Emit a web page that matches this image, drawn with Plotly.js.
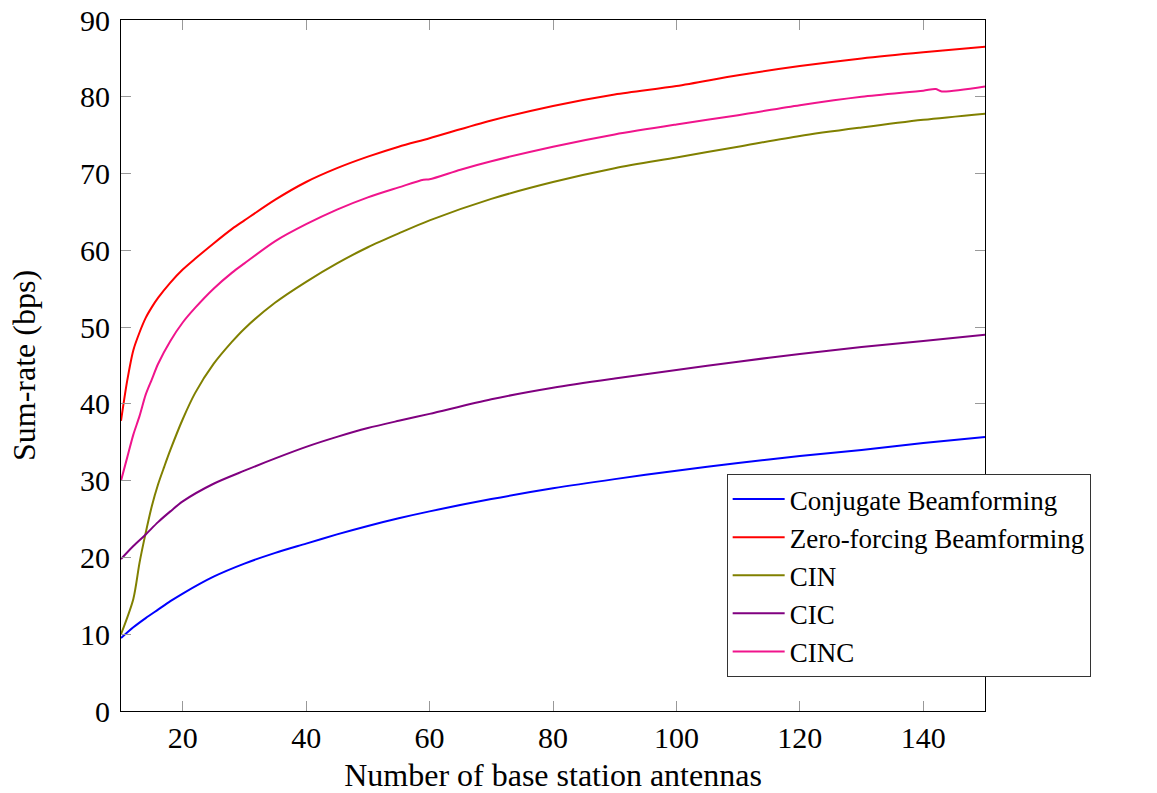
<!DOCTYPE html>
<html>
<head>
<meta charset="utf-8">
<script src="https://cdn.plot.ly/plotly-3.0.1.min.js"></script>
<style>html,body{margin:0;padding:0;background:#fff;}#chart{width:1157px;height:793px;}</style>
</head>
<body>
<div id="chart"></div>
<script>
// Number of base station antennas (x) and sum-rate values (bps)
const seriesNames = ["Conjugate Beamforming", "Zero-forcing Beamforming", "CIN", "CIC", "CINC"];

const cbX  = [10, 12, 14, 16, 18, 20, 25, 30, 35, 40, 45, 50, 55, 60, 70, 80, 90, 100, 110, 120, 130, 140, 150];
const cbY  = [9.5, 10.9, 12.1, 13.2, 14.3, 15.3, 17.5, 19.2, 20.6, 21.8, 23.0, 24.1, 25.1, 26.0, 27.6, 29.0, 30.2, 31.3, 32.3, 33.2, 34.0, 34.9, 35.7];

const zfX  = [10, 11, 12, 13, 14, 15, 16, 18, 20, 22, 25, 28, 30, 35, 40, 45, 50, 55, 60, 70, 80, 90, 100, 110, 120, 130, 140, 150];
const zfY  = [37.8, 43.0, 47.0, 49.3, 51.2, 52.6, 53.8, 55.8, 57.5, 58.9, 60.9, 62.8, 63.9, 66.6, 68.9, 70.7, 72.2, 73.5, 74.6, 76.9, 78.8, 80.3, 81.4, 82.8, 84.0, 85.0, 85.8, 86.5];

const cinX = [10, 12, 13, 14, 15, 16, 17, 18, 20, 22, 25, 28, 30, 35, 40, 45, 50, 55, 60, 70, 80, 90, 100, 110, 120, 130, 140, 150];
const cinY = [10.0, 14.6, 19.3, 23.2, 26.7, 29.5, 31.8, 34.0, 38.0, 41.4, 45.2, 48.1, 49.8, 53.2, 55.9, 58.3, 60.4, 62.2, 63.9, 66.7, 68.9, 70.7, 72.1, 73.5, 74.9, 76.0, 77.0, 77.8];

const cicX = [10, 12, 14, 16, 18, 20, 25, 30, 35, 40, 45, 50, 55, 60, 70, 80, 90, 100, 110, 120, 130, 140, 150];
const cicY = [19.8, 21.5, 23.0, 24.6, 26.0, 27.3, 29.6, 31.3, 32.9, 34.4, 35.7, 36.85, 37.8, 38.7, 40.6, 42.1, 43.3, 44.4, 45.5, 46.5, 47.4, 48.2, 49.0];

const cincX = [10, 11, 12, 13, 14, 15, 16, 18, 20, 22, 25, 28, 30, 35, 40, 45, 50, 55, 59, 60, 65, 70, 80, 90, 100, 110, 120, 130, 140, 142, 143, 150];
const cincY = [30.0, 33.0, 36.0, 38.4, 41.2, 43.2, 45.2, 48.2, 50.6, 52.5, 55.0, 57.1, 58.3, 61.2, 63.4, 65.3, 66.9, 68.2, 69.2, 69.25, 70.5, 71.6, 73.5, 75.1, 76.4, 77.6, 78.9, 80.0, 80.8, 81.0, 80.7, 81.35];

const xTicks = [20, 40, 60, 80, 100, 120, 140];
const yTicks = [0, 10, 20, 30, 40, 50, 60, 70, 80, 90];
const colors = ["#0000ff", "#ff0000", "#808000", "#800080", "#f0148c"];

const xs = [cbX, zfX, cinX, cicX, cincX];
const ys = [cbY, zfY, cinY, cicY, cincY];

const traces = seriesNames.map((n, i) => ({
  x: xs[i], y: ys[i], name: n, type: "scatter", mode: "lines",
  line: {color: colors[i], width: 2, shape: "spline", smoothing: 0.8}
}));

const font = "Liberation Serif, Times New Roman, serif";

const layout = {
  width: 1157, height: 793,
  margin: {l: 121, r: 172, t: 20, b: 82},
  paper_bgcolor: "#fff", plot_bgcolor: "#fff",
  font: {family: font, size: 30, color: "#000"},
  showlegend: true,
  legend: {
    x: 0.701, y: 0.343, xanchor: "left", yanchor: "top",
    bgcolor: "#fff", bordercolor: "#333", borderwidth: 1,
    font: {family: font, size: 27, color: "#000"},
    itemwidth: 52, tracegroupgap: 0
  },
  xaxis: {
    range: [10, 150], tickvals: xTicks, ticktext: xTicks.map(String),
    showgrid: false, zeroline: false,
    showline: true, linecolor: "#000", linewidth: 1, mirror: "allticks",
    ticks: "inside", ticklen: 10, tickcolor: "#999", tickwidth: 1,
    tickfont: {family: font, size: 30},
    title: {text: "Number of base station antennas", font: {family: font, size: 32}, standoff: 10}
  },
  yaxis: {
    range: [0, 90], tickvals: yTicks, ticktext: yTicks.map(String),
    showgrid: false, zeroline: false,
    showline: true, linecolor: "#000", linewidth: 1, mirror: "allticks",
    ticks: "inside", ticklen: 10, tickcolor: "#999", tickwidth: 1,
    ticklabelstandoff: 4,
    tickfont: {family: font, size: 30},
    title: {text: "Sum-rate (bps)", font: {family: font, size: 32}, standoff: 34}
  }
};

Plotly.newPlot("chart", traces, layout, {displayModeBar: false, staticPlot: true});
</script>
</body>
</html>
